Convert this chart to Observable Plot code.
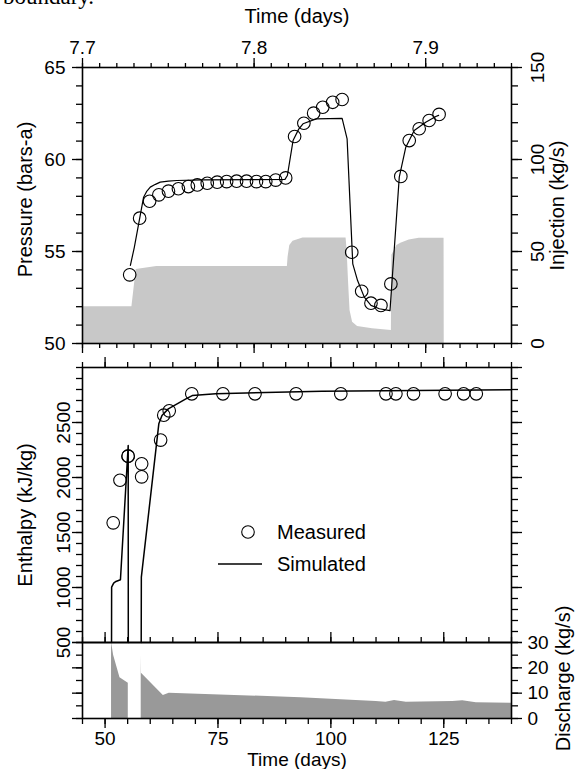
<!DOCTYPE html>
<html><head><meta charset="utf-8">
<script src="https://cdn.jsdelivr.net/npm/d3@7"></script>
<script src="https://cdn.jsdelivr.net/npm/@observablehq/plot@0.6"></script>
<style>
html,body{margin:0;padding:0;background:#fff;}
#chart{position:relative;width:579px;height:769px;overflow:hidden;font-family:"Liberation Sans",Arial,sans-serif;}
#chart svg{position:absolute;left:0;top:0;}
</style></head><body><div id="chart"></div>
<script>
// ---------- Top panel: pressure test (time in days) ----------
const pressTime = [7.7275,7.7333,7.7391,7.7445,7.7501,7.7559,7.7617,7.7669,7.7727,7.7785,7.7840,7.7898,7.7956,7.8014,7.8068,7.8126,7.8184,7.8236,7.8290,7.8347,7.8400,7.8458,7.8513,7.8569,7.8627,7.8681,7.8739,7.8797,7.8855,7.8904,7.8962,7.9020,7.9078];
const pressMeasured = [53.73,56.81,57.73,58.08,58.28,58.41,58.53,58.62,58.71,58.77,58.80,58.82,58.82,58.80,58.80,58.88,59.00,61.25,61.97,62.52,62.84,63.11,63.26,54.96,52.84,52.19,52.07,53.24,59.08,61.03,61.67,62.12,62.45];
const simPressTime = [7.7279,7.7302,7.7356,7.7373,7.7395,7.7425,7.7453,7.7500,7.7550,7.7700,7.8000,7.8180,7.8194,7.8227,7.8260,7.8285,7.8362,7.8513,7.8542,7.8575,7.8603,7.8642,7.8681,7.8730,7.8792,7.8846,7.8884,7.8933,7.9000,7.9059,7.9075];
const simPress = [54.24,55.23,57.95,58.25,58.50,58.65,58.77,58.82,58.86,58.89,58.91,58.92,59.13,61.03,61.65,61.94,62.21,62.24,61.12,54.33,53.42,52.52,52.07,51.89,51.79,59.04,60.67,61.58,62.03,62.34,62.40];
const injTime = [7.700,7.7288,7.7313,7.7433,7.8194,7.8198,7.8208,7.8227,7.8285,7.8536,7.8542,7.8551,7.8559,7.8574,7.8603,7.8690,7.8800,7.8803,7.8832,7.8855,7.8904,7.8962,7.9107,7.9108];
const injRate = [20,20,40.2,41.8,41.8,46.9,53.3,55.6,57.4,57.4,50.5,32.4,17.9,11.6,9.2,8.0,7.0,48.0,53.3,54.5,56.3,57.2,57.2,0];

// ---------- Middle panel: enthalpy (time in days) ----------
const enthTime = [51.8,53.3,55.1,55.1,58.1,58.1,62.3,63.0,64.2,69.2,76.1,83.2,92.3,102.2,112.2,114.4,118.3,125.3,129.4,132.2];
const enthMeasured = [1588,1975,2194,2194,2124,2006,2340,2567,2606,2761,2761,2761,2761,2761,2761,2761,2761,2761,2761,2761];
const simEnthSeg = [1,1,1,1,1,1,1,2,2,2,2,2,2,2,2,2,2];
const simEnthTime = [51.43,51.45,51.9,52.4,53.4,55.12,55.14,58.0,58.03,61.9,62.6,64.0,67.9,69.3,74.5,98,140];
const simEnth = [500,1003,1040,1055,1070,2290,500,500,1094,2488,2564,2624,2715,2745,2761,2785,2797];

// ---------- Bottom panel: discharge ----------
const dischSeg = [1,1,1,1,2,2,2,2,2,2,2,2,2,2,2,2,2];
const dischTime = [51.43,51.9,53.3,55.14,58.0,58.05,62.9,64.2,93.4,110,112.2,114.1,116.7,127,129.2,132.2,140];
const discharge = [30,24.9,16.1,13.9,24.9,17.9,9.1,10.0,8.2,6.7,6.4,7.1,6.4,6.7,7.0,6.2,6.0];

// ---------- tick labels ----------
const testTimeTicks = [7.7,7.8,7.9];
const pressTicks = [50,55,60,65];
const injTicks = [0,50,100,150];
const enthTicks = [500,1000,1500,2000,2500];
const dayTicks = [50,75,100,125];
const dischTicks = [0,10,20,30];

(function () {
const measP = pressTime.map((t,i)=>({t, p: pressMeasured[i]}));
const simP = simPressTime.map((t,i)=>({t, p: simPress[i]}));
const inj = injTime.map((t,i)=>({t, q: injRate[i]}));
const measH = enthTime.map((t,i)=>({t, h: enthMeasured[i]}));
const simH = simEnthTime.map((t,i)=>({t, h: simEnth[i], s: simEnthSeg[i]}));
const dis = dischTime.map((t,i)=>({t, q: discharge[i], s: dischSeg[i]}));

const W = 579, H = 769, L = 82, R = 511;
const FONT = '"Liberation Sans", Arial, Helvetica, sans-serif';
const style = {fontFamily: FONT, fontSize: "19px", background: "transparent", overflow: "visible", color: "#000"};
const SW = 1.3;
const TF = 20; // axis title font size
const inj2p = v => 50 + v/10;
const title = (s, o) => Plot.text([s], {fontSize: TF, textAnchor: "middle", lineAnchor: "middle", ...o});

const chart = document.getElementById("chart");

const topPanel = Plot.plot({
  width: W, height: H,
  marginLeft: L, marginRight: W - R, marginTop: 67, marginBottom: H - 343,
  x: {domain: [7.7, 7.95]},
  y: {domain: [50, 65]},
  style,
  marks: [
    Plot.areaY(inj, {x: "t", y1: 50, y2: d => inj2p(d.q), fill: "#c8c8c8"}),
    Plot.line(simP, {x: "t", y: "p", stroke: "#000", strokeWidth: 1.2}),
    Plot.dot(measP, {x: "t", y: "p", r: 6.3, stroke: "#000", strokeWidth: 1.1, fill: "none"}),
    Plot.frame({stroke: "#000", strokeWidth: 1.6}),
    Plot.axisY({anchor: "left", ticks: pressTicks, tickSize: 10, tickPadding: 7, label: null, strokeWidth: SW, tickFormat: d => String(d)}),
    Plot.axisY({anchor: "left", ticks: d3.range(50, 66, 1), tickSize: 6, label: null, strokeWidth: SW, tickFormat: () => ""}),
    Plot.axisY({anchor: "right", ticks: injTicks.map(inj2p), tickSize: 10, tickPadding: 9, tickRotate: -90, lineAnchor: "top", label: null, strokeWidth: SW, tickFormat: p => String(Math.round((p - 50) * 10))}),
    Plot.axisY({anchor: "right", ticks: d3.range(0, 151, 10).map(inj2p), tickSize: 6, label: null, strokeWidth: SW, tickFormat: () => ""}),
    Plot.axisX({anchor: "top", ticks: testTimeTicks, tickSize: 10, tickPadding: 4, label: null, strokeWidth: SW, tickFormat: d3.format(".1f")}),
    Plot.axisX({anchor: "top", ticks: d3.range(0, 26).map(i => 7.7 + i * 0.01), tickSize: 5, label: null, strokeWidth: SW, tickFormat: () => ""}),
    Plot.axisX({anchor: "bottom", ticks: testTimeTicks, tickSize: 10, label: null, strokeWidth: SW, tickFormat: () => ""}),
    Plot.axisX({anchor: "bottom", ticks: d3.range(0, 26).map(i => 7.7 + i * 0.01), tickSize: 5, label: null, strokeWidth: SW, tickFormat: () => ""}),
    title("Time (days)", {frameAnchor: "top", dy: -51}),
    title("Pressure (bars-a)", {frameAnchor: "left", dx: -57, dy: -6, rotate: -90}),
    title("Injection (kg/s)", {frameAnchor: "right", dx: 46, rotate: -90})
  ]
});

const midPanel = Plot.plot({
  width: W, height: H,
  marginLeft: L, marginRight: W - R, marginTop: 367, marginBottom: H - 642,
  x: {domain: [45, 140]},
  y: {domain: [500, 3000]},
  style,
  marks: [
    Plot.line(simH, {x: "t", y: "h", z: "s", stroke: "#000", strokeWidth: 1.5}),
    Plot.dot(measH, {x: "t", y: "h", r: 6.3, stroke: "#000", strokeWidth: 1.1, fill: "none"}),
    Plot.frame({stroke: "#000", strokeWidth: 1.6}),
    Plot.axisY({anchor: "left", ticks: enthTicks, tickSize: 10, tickPadding: 3, tickRotate: -90, label: null, strokeWidth: SW, tickFormat: d => String(d)}),
    Plot.axisY({anchor: "left", ticks: d3.range(500, 3001, 100), tickSize: 6, label: null, strokeWidth: SW, tickFormat: () => ""}),
    Plot.axisY({anchor: "right", ticks: d3.range(500, 3001, 500), tickSize: 10, label: null, strokeWidth: SW, tickFormat: () => ""}),
    Plot.axisY({anchor: "right", ticks: d3.range(500, 3001, 100), tickSize: 6, label: null, strokeWidth: SW, tickFormat: () => ""}),
    Plot.axisX({anchor: "top", ticks: dayTicks, tickSize: 11, label: null, strokeWidth: SW, tickFormat: () => ""}),
    Plot.axisX({anchor: "top", ticks: d3.range(45, 141, 5), tickSize: 6, label: null, strokeWidth: SW, tickFormat: () => ""}),
    title("Enthalpy (kJ/kg)", {frameAnchor: "left", dx: -57, dy: 10, rotate: -90})
  ]
});

const botPanel = Plot.plot({
  width: W, height: H,
  marginLeft: L, marginRight: W - R, marginTop: 642, marginBottom: H - 718,
  x: {domain: [45, 140]},
  y: {domain: [0, 30]},
  style,
  marks: [
    Plot.areaY(dis, {x: "t", y1: 0, y2: "q", z: "s", fill: "#999999"}),
    Plot.frame({stroke: "#000", strokeWidth: 1.6}),
    Plot.axisY({anchor: "left", ticks: d3.range(0, 31, 10), tickSize: 10, label: null, strokeWidth: SW, tickFormat: () => ""}),
    Plot.axisY({anchor: "left", ticks: d3.range(0, 31, 5), tickSize: 6, label: null, strokeWidth: SW, tickFormat: () => ""}),
    Plot.axisY({anchor: "right", ticks: dischTicks, tickSize: 10, tickPadding: 6, label: null, strokeWidth: SW, tickFormat: d => String(d)}),
    Plot.axisY({anchor: "right", ticks: d3.range(0, 31, 5), tickSize: 6, label: null, strokeWidth: SW, tickFormat: () => ""}),
    Plot.axisX({anchor: "bottom", ticks: dayTicks, tickSize: 10, tickPadding: 3, label: null, strokeWidth: SW, tickFormat: d => String(d)}),
    Plot.axisX({anchor: "bottom", ticks: d3.range(45, 141, 5), tickSize: 6, label: null, strokeWidth: SW, tickFormat: () => ""}),
    Plot.axisX({anchor: "top", ticks: dayTicks, tickSize: 11, label: null, strokeWidth: SW, tickFormat: () => ""}),
    Plot.axisX({anchor: "top", ticks: d3.range(45, 141, 5), tickSize: 6, label: null, strokeWidth: SW, tickFormat: () => ""}),
    title("Discharge (kg/s)", {frameAnchor: "right", dx: 52, dy: -2, rotate: -90}),
    title("Time (days)", {frameAnchor: "bottom", dy: 41, fontSize: 19})
  ]
});

chart.append(topPanel, midPanel, botPanel);

// Legend and clipped running text above the figure
const ov = d3.select(chart).append("svg").attr("width", W).attr("height", H)
  .style("font-family", FONT).style("font-size", TF + "px");
ov.append("text").attr("x", 3).attr("y", 4).style("font-family", '"Liberation Serif", "Times New Roman", serif').style("font-size", "23px").text("boundary.");
const lg = ov.append("g");
lg.append("circle").attr("cx", 248).attr("cy", 532).attr("r", 6.3).attr("fill", "none").attr("stroke", "#000").attr("stroke-width", 1.1);
lg.append("text").attr("x", 277).attr("y", 532).attr("dy", "0.35em").text("Measured");
lg.append("line").attr("x1", 218).attr("x2", 262).attr("y1", 564).attr("y2", 564).attr("stroke", "#000").attr("stroke-width", 1.5);
lg.append("text").attr("x", 277).attr("y", 564).attr("dy", "0.35em").text("Simulated");
})();
</script></body></html>
